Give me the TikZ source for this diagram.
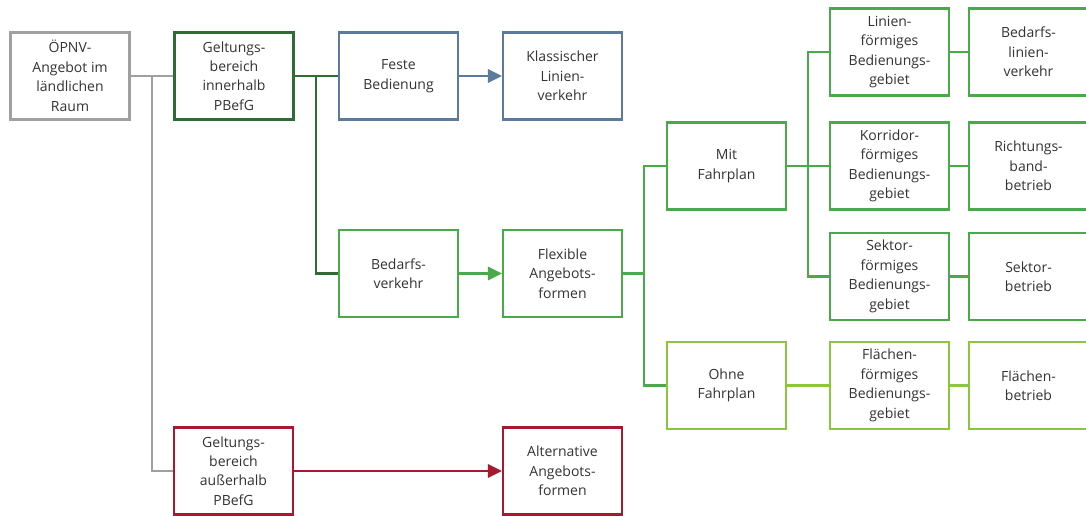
\documentclass[tikz,border=0pt]{standalone}
\usepackage{fontspec}
\setmainfont{Open Sans}
\usetikzlibrary{arrows.meta}
\definecolor{cgray}{HTML}{A0A0A0}
\definecolor{cdkgreen}{HTML}{2F6B35}
\definecolor{cblue}{HTML}{5B7A9C}
\definecolor{cgreen}{HTML}{4AA94A}
\definecolor{clgreen}{HTML}{8CC63E}
\definecolor{cred}{HTML}{A6192E}
\definecolor{ctext}{HTML}{333333}
\tikzset{
  box/.style={draw, line width=1.8pt, minimum width=89pt, minimum height=65pt,
    align=center, inner sep=0pt, text=ctext, fill=white,
    font=\fontsize{10.5}{14.6}\selectfont},
  conn/.style={line width=1.6pt},
  arr/.style={conn, -{Triangle[length=10.5pt,width=10pt]}}
}
\begin{document}
\begin{tikzpicture}[x=0.75pt,y=-0.75pt]
\useasboundingbox (0,0) rectangle (1086,516);
\clip (0,0) rectangle (1086,516);
% nodes
\node[box, draw=cgray] (opnv) at (70,76) {ÖPNV-\\Angebot im\\ländlichen\\Raum};
\node[box, draw=cdkgreen] (gi) at (234,76) {Geltungs-\\bereich\\innerhalb\\PBefG};
\node[box, draw=cblue] (feste) at (398.5,76) {Feste\\Bedienung};
\node[box, draw=cblue] (klass) at (562.5,76) {Klassischer\\Linien-\\verkehr};
\node[box, draw=cgreen] (bedarfs) at (398.5,273.5) {Bedarfs-\\verkehr};
\node[box, draw=cgreen] (flex) at (562.5,273.5) {Flexible\\Angebots-\\formen};
\node[box, draw=cgreen] (mit) at (726.5,166) {Mit\\Fahrplan};
\node[box, draw=cgreen] (linien) at (889.5,52) {Linien-\\förmiges\\Bedienungs-\\gebiet};
\node[box, draw=cgreen] (bedlin) at (1028.5,52) {Bedarfs-\\linien-\\verkehr};
\node[box, draw=cgreen] (korr) at (889.5,166) {Korridor-\\förmiges\\Bedienungs-\\gebiet};
\node[box, draw=cgreen] (richt) at (1028.5,166) {Richtungs-\\band-\\betrieb};
\node[box, draw=cgreen] (sektor) at (889.5,276.5) {Sektor-\\förmiges\\Bedienungs-\\gebiet};
\node[box, draw=cgreen] (sekb) at (1028.5,276.5) {Sektor-\\betrieb};
\node[box, draw=clgreen] (ohne) at (726.5,385.5) {Ohne\\Fahrplan};
\node[box, draw=clgreen] (flaech) at (889.5,385.5) {Flächen-\\förmiges\\Bedienungs-\\gebiet};
\node[box, draw=clgreen] (flaechb) at (1028.5,385.5) {Flächen-\\betrieb};
\node[box, draw=cred] (ga) at (233.5,471) {Geltungs-\\bereich\\außerhalb\\PBefG};
\node[box, draw=cred] (alt) at (562.5,471) {Alternative\\Angebots-\\formen};
% junctions
\coordinate (j1) at (152,76);
\coordinate (j2) at (316,76);
\coordinate (j3) at (644,273.5);
\coordinate (j4) at (808,166);
% connectors
\draw[conn, cgray] (opnv.east) -- (gi.west);
\draw[conn, cgray] (j1) |- (ga.west);
\draw[conn, cdkgreen] (gi.east) -- (feste.west);
\draw[conn, cdkgreen] (j2) |- (bedarfs.west);
\draw[arr, cblue] (feste.east) -- (klass.west);
\draw[arr, cgreen] (bedarfs.east) -- (flex.west);
\draw[arr, cred] (ga.east) -- (alt.west);
\draw[conn, cgreen] (flex.east) -- (j3);
\draw[conn, cgreen] (j3) |- (mit.west);
\draw[conn, cgreen] (j3) |- (ohne.west);
\draw[conn, cgreen] (mit.east) -- (korr.west);
\draw[conn, cgreen] (j4) |- (linien.west);
\draw[conn, cgreen] (j4) |- (sektor.west);
\draw[conn, cgreen] (linien.east) -- (bedlin.west);
\draw[conn, cgreen] (korr.east) -- (richt.west);
\draw[conn, cgreen] (sektor.east) -- (sekb.west);
\draw[conn, clgreen] (ohne.east) -- (flaech.west);
\draw[conn, clgreen] (flaech.east) -- (flaechb.west);
\end{tikzpicture}
\end{document}
